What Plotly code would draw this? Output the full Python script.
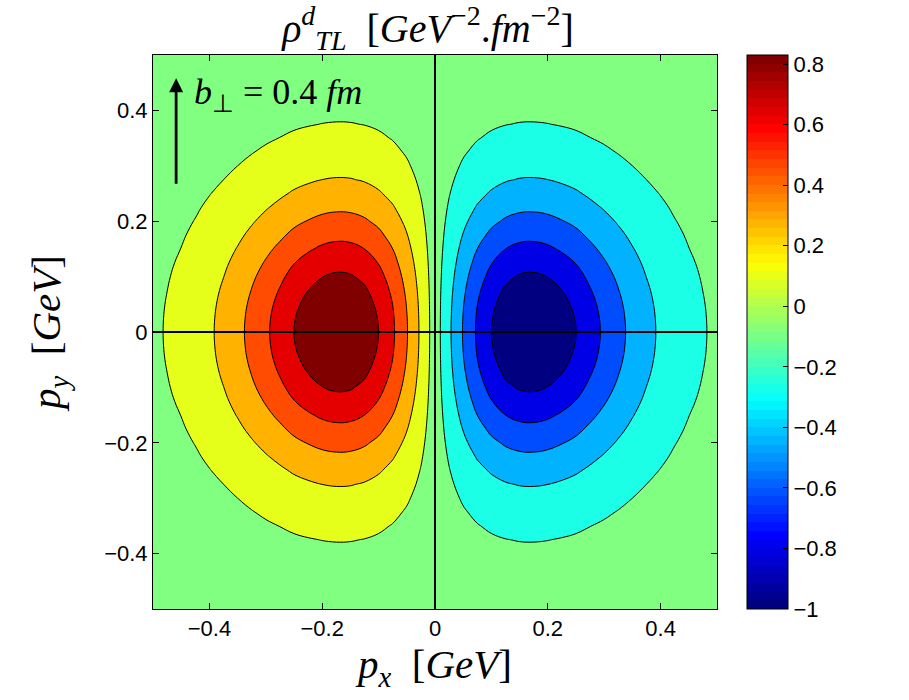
import numpy as np
import plotly.graph_objects as go

# ---------------- data ----------------
# sample positions along each momentum axis [GeV]
px_values = [-0.5, -0.475, -0.45, -0.425, -0.4, -0.375, -0.35, -0.325, -0.3, -0.275,
             -0.25, -0.225, -0.2, -0.175, -0.15, -0.125, -0.1, -0.075, -0.05, -0.025,
             0.0, 0.025, 0.05, 0.075, 0.1, 0.125, 0.15, 0.175, 0.2, 0.225,
             0.25, 0.275, 0.3, 0.325, 0.35, 0.375, 0.4, 0.425, 0.45, 0.475, 0.5]
py_values = list(px_values)

# density along the p_y = 0 line
rho_on_px_axis = [0.07, 0.1, 0.135, 0.185, 0.25, 0.322, 0.41, 0.508, 0.612, 0.715,
                  0.824, 0.904, 0.969, 1.0, 0.99, 0.931, 0.822, 0.666, 0.469, 0.243,
                  0.0, -0.243, -0.469, -0.666, -0.822, -0.931, -0.99, -1.0, -0.969, -0.904,
                  -0.824, -0.715, -0.612, -0.508, -0.41, -0.322, -0.25, -0.185, -0.135, -0.1, -0.07]

# relative fall-off along p_y
py_falloff = [0.0155, 0.0233, 0.0342, 0.0493, 0.0695, 0.096, 0.1299, 0.172, 0.2231, 0.2835,
              0.3529, 0.4301, 0.5134, 0.6003, 0.6873, 0.7707, 0.8465, 0.9105, 0.9592, 0.9896,
              1.0, 0.9896, 0.9592, 0.9105, 0.8465, 0.7707, 0.6873, 0.6003, 0.5134, 0.4301,
              0.3529, 0.2835, 0.2231, 0.172, 0.1299, 0.096, 0.0695, 0.0493, 0.0342, 0.0233, 0.0155]

axis_ticks = [-0.4, -0.2, 0.0, 0.2, 0.4]
axis_ticktext = ["\u22120.4", "\u22120.2", "0", "0.2", "0.4"]
cbar_ticks = [-1, -0.8, -0.6, -0.4, -0.2, 0, 0.2, 0.4, 0.6, 0.8]
cbar_ticktext = ["\u22121", "\u22120.8", "\u22120.6", "\u22120.4", "\u22120.2", "0", "0.2", "0.4", "0.6", "0.8"]
cbar_min, cbar_max = -1.0, 0.83

# table for the contour trace
z_table = np.outer(np.array(py_falloff), np.array(rho_on_px_axis))


# ---------------- styling helpers ----------------
def jet(t):
    r = min(max(1.5 - abs(4 * t - 3), 0), 1)
    g = min(max(1.5 - abs(4 * t - 2), 0), 1)
    b = min(max(1.5 - abs(4 * t - 1), 0), 1)
    return "rgb(%d,%d,%d)" % (round(r * 255), round(g * 255), round(b * 255))


# contour band colours (11 bands, 10 levels)
band_scale = [[k / 10, jet(k / 10)] for k in range(11)]

# 64-step jet for the colour bar
bar_scale = []
for i in range(64):
    c = jet(i / 63)
    bar_scale.append([i / 64, c])
    bar_scale.append([(i + 1) / 64, c])

serif = "Liberation Serif, Times New Roman, serif"
sans = "Liberation Sans, Arial, Helvetica, sans-serif"

fig = go.Figure()

fig.add_trace(go.Contour(
    x=px_values, y=py_values, z=z_table,
    autocontour=False,
    contours=dict(start=-0.8235, end=0.8235, size=0.183, coloring="fill"),
    colorscale=band_scale,
    showscale=False,
    line=dict(color="black", width=1, smoothing=1.2),
    hoverinfo="skip",
))

fig.add_trace(go.Scatter(
    x=[None], y=[None], mode="markers", showlegend=False,
    marker=dict(color=[0], colorscale=bar_scale, cmin=cbar_min, cmax=cbar_max,
                showscale=True,
                colorbar=dict(
                    x=(747 - 153) / 564, xanchor="left", xpad=0,
                    y=0.5, yanchor="middle", ypad=0,
                    len=1.0, lenmode="fraction",
                    thickness=41, thicknessmode="pixels",
                    outlinewidth=1, outlinecolor="black",
                    tickmode="array", tickvals=cbar_ticks, ticktext=cbar_ticktext,
                    ticks="inside", ticklen=5, tickcolor="black",
                    tickfont=dict(family=sans, size=22, color="black"),
                )),
))

axis_common = dict(
    range=[-0.5, 0.5], tickmode="array", tickvals=axis_ticks, ticktext=axis_ticktext,
    ticks="inside", ticklen=6, tickcolor="black", mirror="ticks",
    showline=True, linecolor="black", linewidth=1,
    showgrid=False, zeroline=False,
    layer="above traces",
    tickfont=dict(family=sans, size=22, color="black"),
)

fig.update_layout(
    width=909, height=700,
    margin=dict(l=153, r=192, t=55, b=91),
    paper_bgcolor="white", plot_bgcolor="white",
    xaxis=dict(axis_common,
               title=dict(text="<i>p</i><sub><i>x</i></sub>  [<i>GeV</i>]",
                          font=dict(family=serif, size=41, color="black"), standoff=8)),
    yaxis=dict(axis_common,
               title=dict(text="<i>p</i><sub><i>y</i></sub>  [<i>GeV</i>]",
                          font=dict(family=serif, size=41, color="black"), standoff=30)),
    title=dict(text="<i>\u03c1</i><sup><i>d</i></sup><sub><i>TL</i></sub>  [<i>GeV</i><sup>\u22122</sup>.<i>fm</i><sup>\u22122</sup>]",
               x=428 / 909, xanchor="center", y=1 - 28 / 700, yanchor="middle",
               yref="container", xref="container",
               font=dict(family=serif, size=40, color="black")),
    showlegend=False,
)

# axis cross lines at p_x = 0 and p_y = 0
fig.add_vline(x=0, line=dict(color="black", width=2), layer="above")
fig.add_hline(y=0, line=dict(color="black", width=2), layer="above")

fig.add_annotation(x=-0.459, y=0.458, ax=-0.459, ay=0.265, xref="x", yref="y",
                   axref="x", ayref="y", text="", showarrow=True,
                   arrowhead=2, arrowsize=1.0, arrowwidth=2.8, arrowcolor="black")
fig.add_annotation(x=-0.43, y=0.428, xref="x", yref="y", xanchor="left", yanchor="middle",
                   text="<i>b</i><sub>\u22a5</sub> = 0.4 <i>fm</i>", showarrow=False,
                   font=dict(family=serif, size=36, color="black"))

fig.write_html("out.html")
